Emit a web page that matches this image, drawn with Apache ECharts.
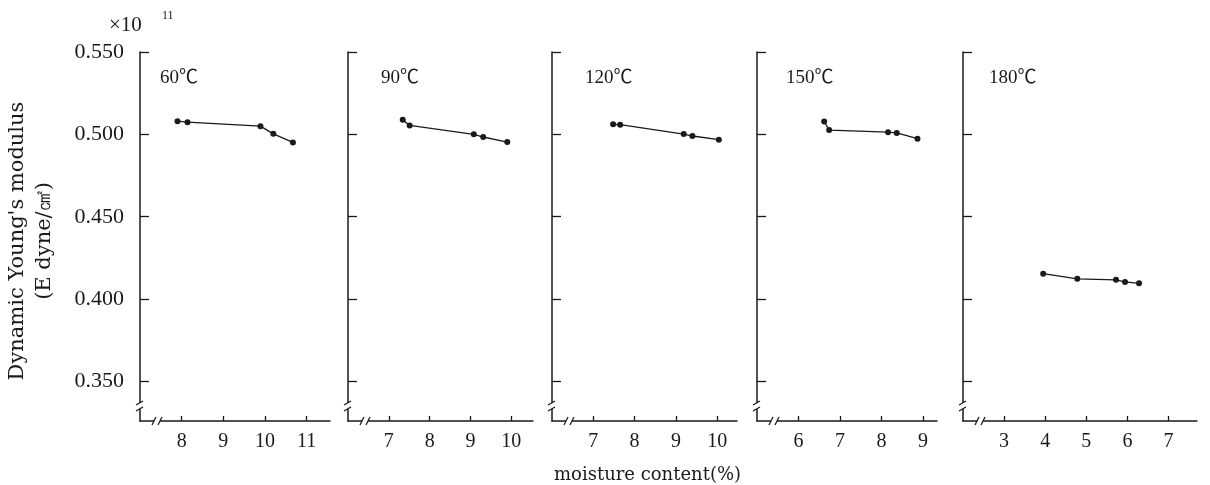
<!DOCTYPE html>
<html>
<head>
<meta charset="utf-8">
<script src="https://cdn.jsdelivr.net/npm/echarts@6/dist/echarts.min.js"></script>
<style>
  html, body { margin: 0; padding: 0; background: #fff; }
  #main { width: 1210px; height: 485px; }
</style>
</head>
<body>
<div id="main"></div>
<script>
// 패널별 온도 라벨
const panelTemps = ['60℃', '90℃', '120℃', '150℃', '180℃'];

// x축 범위 (끊김 표시 앞 구간 포함)
const xMins = [7, 6, 6, 5, 2];
const xMaxs = [11.56, 10.53, 10.48, 9.34, 7.69];
const xTickVals = [[8, 9, 10, 11], [7, 8, 9, 10], [7, 8, 9, 10], [6, 7, 8, 9], [3, 4, 5, 6, 7]];

// y축 눈금
const yMin = 0.326;
const yMax = 0.55;
const yTicks = [0.35, 0.40, 0.45, 0.50, 0.55];

// 함수율(%) / 동적 영률 (x10^11 dyne/cm2)
const moisture60 = [7.90, 8.14, 9.89, 10.20, 10.67];
const modulus60 = [0.5080, 0.5074, 0.5050, 0.5003, 0.4951];
const moisture90 = [7.34, 7.51, 9.08, 9.31, 9.90];
const modulus90 = [0.5088, 0.5054, 0.5000, 0.4984, 0.4953];
const moisture120 = [7.48, 7.65, 9.19, 9.40, 10.04];
const modulus120 = [0.5061, 0.5059, 0.5002, 0.4990, 0.4968];
const moisture150 = [6.62, 6.74, 8.16, 8.37, 8.87];
const modulus150 = [0.5078, 0.5026, 0.5013, 0.5009, 0.4974];
const moisture180 = [3.95, 4.78, 5.72, 5.94, 6.28];
const modulus180 = [0.4154, 0.4123, 0.4117, 0.4104, 0.4096];

const seriesX = [moisture60, moisture90, moisture120, moisture150, moisture180];
const seriesY = [modulus60, modulus90, modulus120, modulus150, modulus180];

// 레이아웃
const gridBoxes = [
  { left: 140, width: 190 },
  { left: 348, width: 185 },
  { left: 552, width: 185 },
  { left: 757, width: 180 },
  { left: 963, width: 234 }
];
const titleLefts = [155, 376, 580, 781, 984];

const INK = '#1a1a1a';
const SERIF = '"Liberation Serif", "Noto Sans CJK JP", serif';

const chart = echarts.init(document.getElementById('main'), null, { renderer: 'canvas' });

const grids = gridBoxes.map(b => ({ left: b.left, width: b.width, top: 52, height: 369 }));

const xAxes = gridBoxes.map((b, i) => ({
  type: 'value', gridIndex: i, min: xMins[i], max: xMaxs[i],
  splitLine: { show: false },
  axisLine: { lineStyle: { color: INK, width: 1.5 } },
  axisTick: { inside: true, length: 5, customValues: xTickVals[i], lineStyle: { color: INK, width: 1.3 } },
  axisLabel: { customValues: xTickVals[i], color: INK, fontFamily: SERIF, fontSize: 20, margin: 11 }
}));

const yAxes = gridBoxes.map((b, i) => ({
  type: 'value', gridIndex: i, min: yMin, max: yMax,
  splitLine: { show: false },
  axisLine: { show: true, lineStyle: { color: INK, width: 1.5 } },
  axisTick: { show: true, inside: true, length: 9, customValues: yTicks, lineStyle: { color: INK, width: 1.3 } },
  axisLabel: {
    show: i === 0, customValues: yTicks, color: INK, fontFamily: SERIF, fontSize: 22, margin: 16,
    formatter: v => v.toFixed(3)
  }
}));

const series = seriesX.map((xs, i) => ({
  type: 'line', xAxisIndex: i, yAxisIndex: i,
  data: xs.map((x, k) => [x, seriesY[i][k]]),
  symbol: 'circle', symbolSize: 6,
  itemStyle: { color: INK },
  lineStyle: { color: INK, width: 1.3 },
  animation: false
}));

const titles = panelTemps.map((t, i) => ({
  text: t, left: titleLefts[i], top: 64,
  textStyle: { fontFamily: SERIF, fontSize: 19, fontWeight: 'normal', color: INK }
}));
titles.push({ text: '×10', left: 104, top: 10, textStyle: { fontFamily: SERIF, fontSize: 21, fontWeight: 'normal', color: INK } });
titles.push({ text: '11', left: 157, top: 5, textStyle: { fontFamily: SERIF, fontSize: 12, fontWeight: 'normal', color: INK } });
titles.push({ text: 'moisture content(%)', left: 549, top: 461, textStyle: { fontFamily: '"DejaVu Serif", serif', fontSize: 18, fontWeight: 'normal', color: INK } });

chart.setOption({
  backgroundColor: '#fff',
  animation: false,
  title: titles,
  grid: grids,
  xAxis: xAxes,
  yAxis: yAxes,
  series: series
});

// 세로축 제목 + 축 끊김 표시 (//)
const decos = [{
  type: 'text', x: 31, y: 241, rotation: Math.PI / 2,
  style: {
    text: "Dynamic Young's modulus\n(E dyne/㎠)",
    align: 'center', verticalAlign: 'middle', lineHeight: 27,
    font: '21px "DejaVu Serif", serif', fill: INK
  }
}];
gridBoxes.forEach((b, i) => {
  const o = chart.convertToPixel({ gridIndex: i }, [xMins[i], yMin]);
  const ax = o[0], by = o[1];
  // y축 끊김
  decos.push({ type: 'rect', shape: { x: ax - 3, y: by - 18, width: 6, height: 6 }, style: { fill: '#fff' }, z: 100 });
  decos.push({ type: 'line', shape: { x1: ax - 4, y1: by - 16, x2: ax + 3, y2: by - 20 }, style: { stroke: INK, lineWidth: 1.3 }, z: 101 });
  decos.push({ type: 'line', shape: { x1: ax - 4, y1: by - 10, x2: ax + 3, y2: by - 14 }, style: { stroke: INK, lineWidth: 1.3 }, z: 101 });
  // x축 끊김
  decos.push({ type: 'rect', shape: { x: ax + 14, y: by - 3, width: 6, height: 6 }, style: { fill: '#fff' }, z: 100 });
  decos.push({ type: 'line', shape: { x1: ax + 12, y1: by + 4, x2: ax + 16, y2: by - 4 }, style: { stroke: INK, lineWidth: 1.3 }, z: 101 });
  decos.push({ type: 'line', shape: { x1: ax + 18, y1: by + 4, x2: ax + 22, y2: by - 4 }, style: { stroke: INK, lineWidth: 1.3 }, z: 101 });
});
chart.setOption({ graphic: decos });
</script>
</body>
</html>
